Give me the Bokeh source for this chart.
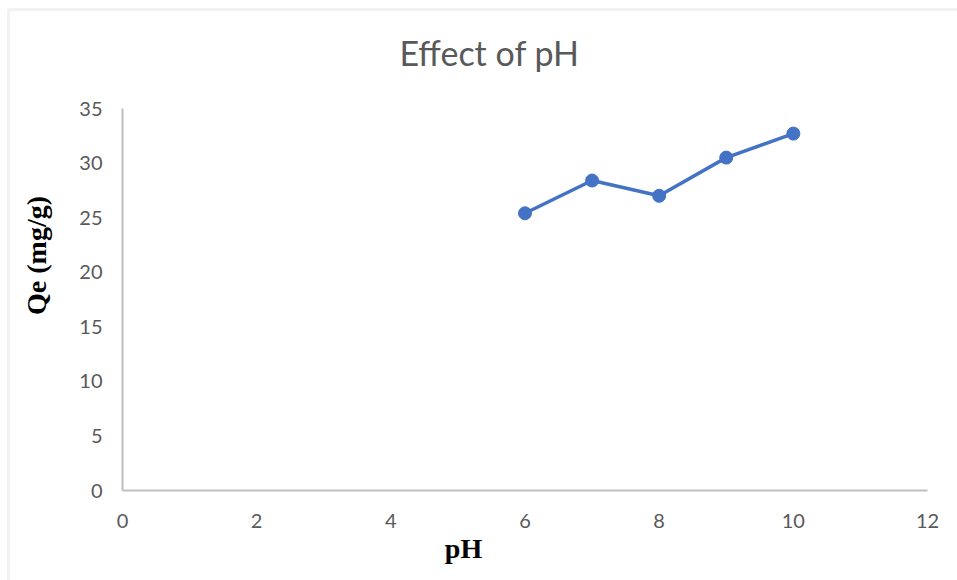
from bokeh.plotting import figure
from bokeh.embed import file_html
from bokeh.resources import INLINE
from bokeh.models import Label, BoxAnnotation, Range1d, FixedTicker

# Data
ph = [6, 7, 8, 9, 10]
qe = [25.4, 28.4, 27.0, 30.5, 32.7]
x_ticks = [0, 2, 4, 6, 8, 10, 12]
y_ticks = [0, 5, 10, 15, 20, 25, 30, 35]
title_text = "Effect of pH"
x_label = "pH"
y_label = "Qe (mg/g)"

GRAY_TXT = "#595959"
AXIS_CLR = "#bfbfbf"
BLUE = "#4472C4"

W, H = 957, 580
# plot area in canvas pixels
PL, PR, PT, PB = 122, 927, 108, 490
XMIN, XMAX, YMIN, YMAX = 0, 12, 0, 35
xpu = (PR - PL) / (XMAX - XMIN)
ypu = (PB - PT) / (YMAX - YMIN)

def dx(px):
    return XMIN + (px - PL) / xpu

def dy(py):
    return YMIN + (PB - py) / ypu

p = figure(width=W, height=H, output_backend="svg", toolbar_location=None,
           x_range=Range1d(dx(0), dx(W)), y_range=Range1d(dy(H), dy(0)),
           min_border_left=0, min_border_right=0, min_border_top=0, min_border_bottom=0)
p.outline_line_color = None
p.xgrid.visible = False
p.ygrid.visible = False
p.background_fill_color = "white"
p.border_fill_color = "white"

for ax, ticks, bnds in ((p.xaxis, x_ticks, (XMIN, XMAX)), (p.yaxis, y_ticks, (YMIN, YMAX))):
    ax.ticker = FixedTicker(ticks=ticks)
    ax.bounds = bnds
    ax.fixed_location = 0
    ax.axis_line_color = AXIS_CLR
    ax.axis_line_width = 2
    ax.major_tick_line_color = None
    ax.minor_tick_line_color = None
    ax.major_label_text_font = "Lato"
    ax.major_label_text_font_size = "20px"
    ax.major_label_text_color = GRAY_TXT
p.xaxis.major_label_standoff = 17
p.yaxis.major_label_standoff = 14

p.line(ph, qe, line_color=BLUE, line_width=3.5)
p.scatter(ph, qe, size=13, fill_color=BLUE, line_color=BLUE)

# chart area border
p.add_layout(BoxAnnotation(left=dx(8), right=dx(W + 10), top=dy(9), bottom=dy(H + 10),
                           fill_color=None, line_color="#d4d4d4", line_width=3))

p.add_layout(Label(x=dx(489), y=dy(52), text=title_text, text_font="Lato", text_font_size="34px",
                   text_color=GRAY_TXT, text_align="center", text_baseline="alphabetic"))
p.add_layout(Label(x=dx(463), y=dy(548), text=x_label, text_font="Liberation Serif",
                   text_font_style="bold", text_font_size="28px", text_color="black",
                   text_align="center", text_baseline="alphabetic"))
p.add_layout(Label(x=dx(36), y=dy(255), text=y_label, text_font="Liberation Serif",
                   text_font_style="bold", text_font_size="28px", text_color="black",
                   text_align="center", text_baseline="alphabetic", angle=1.5708))

open("out.html", "w").write(file_html(p, INLINE))
